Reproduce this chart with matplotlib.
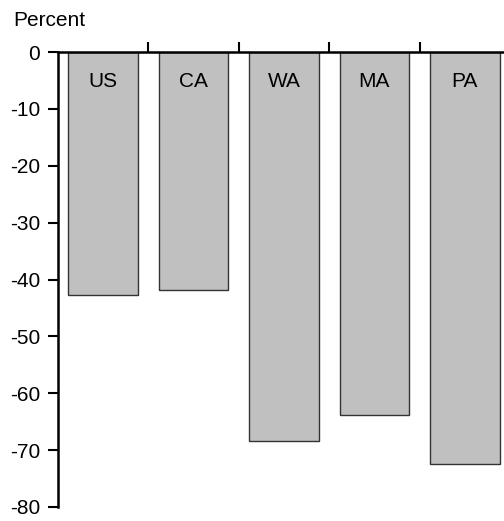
import matplotlib.pyplot as plt
import numpy as np

plt.rcParams['font.family'] = ['Liberation Sans', 'DejaVu Sans']
plt.rcParams['axes.unicode_minus'] = False

# Data
states = ['US', 'CA', 'WA', 'MA', 'PA']
change = [-42.7, -41.8, -68.4, -63.8, -72.4]

fig = plt.figure(figsize=(5.04, 5.21), dpi=100)
ax = fig.add_axes([58 / 504, 14 / 521, 452 / 504, 455 / 521])

x = np.arange(len(states))
ax.bar(x, change, width=0.77, color='#c0c0c0', edgecolor='#333333', linewidth=1.0)

for xi, name in zip(x, states):
    ax.text(xi, -5.2, name, ha='center', va='center', fontsize=15)

ax.set_xlim(-0.5, 4.5)
ax.set_ylim(-80, 0)
ax.set_yticks(range(-80, 1, 10))
ax.tick_params(axis='y', direction='out', length=7, width=1.5, labelsize=15, pad=6)

ax.xaxis.tick_top()
ax.set_xticks(x[:-1] + 0.5)
ax.set_xticklabels([])
ax.tick_params(axis='x', direction='out', length=7, width=1.5)

ax.spines['bottom'].set_visible(False)
ax.spines['right'].set_visible(False)
ax.spines['left'].set_linewidth(1.8)
ax.spines['top'].set_linewidth(1.8)

fig.text(13 / 504, 1 - 20 / 521, 'Percent', ha='left', va='center', fontsize=15)

fig.savefig('out.png', dpi=100)
